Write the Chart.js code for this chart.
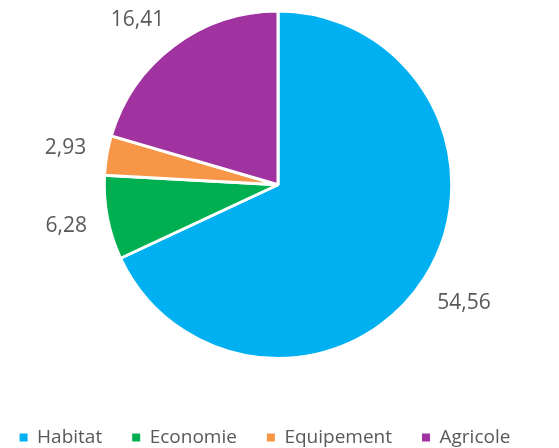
<!DOCTYPE html>
<html>
<head>
<meta charset="utf-8">
<script src="https://cdn.jsdelivr.net/npm/chart.js@4/dist/chart.umd.min.js"></script>
<style>
    html, body { margin: 0; padding: 0; background: #fff; }
    #wrap { width: 559px; height: 448px; }
</style>
</head>
<body>
<div id="wrap"><canvas id="pie"></canvas></div>
<script>
(function () {
    "use strict";

    const categories = ["Habitat", "Economie", "Equipement", "Agricole"];
    const values = [54.56, 6.28, 2.93, 16.41];
    const valueLabels = ["54,56", "6,28", "2,93", "16,41"];
    const colors = ["#00B0F0", "#00B050", "#F79646", "#A033A0"];

    const textColor = "#595959";
    const fontFamily = "'Open Sans', sans-serif";

    // Labels outside each slice, kept inside the top of the plot
    const outsideLabels = {
        id: "outsideLabels",
        afterDatasetsDraw(chart) {
            const ctx = chart.ctx;
            const meta = chart.getDatasetMeta(0);
            const minY = chart.chartArea.top + 11;
            ctx.save();
            ctx.font = "21px " + fontFamily;
            ctx.fillStyle = textColor;
            ctx.textAlign = "center";
            ctx.textBaseline = "middle";
            meta.data.forEach((arc, i) => {
                const p = arc.getProps(["x", "y", "startAngle", "endAngle", "outerRadius"], true);
                const mid = (p.startAngle + p.endAngle) / 2;
                const halfW = ctx.measureText(valueLabels[i]).width / 2;
                const halfH = 8;
                const c = Math.cos(mid);
                const s = Math.sin(mid);
                const dist = p.outerRadius + 20 + halfW * Math.abs(c) + halfH * Math.abs(s);
                let lx = p.x + c * dist;
                let ly = p.y + s * dist;
                if (ly < minY) {
                    const dy = p.y - minY;
                    const dx = Math.sqrt(Math.max(dist * dist - dy * dy, 0));
                    ly = minY;
                    lx = p.x + Math.sign(c) * dx;
                }
                ctx.fillText(valueLabels[i], lx, ly);
            });
            ctx.restore();
        },
    };

    // Move the legend box below the pie, like the office chart
    const legendShift = {
        id: "legendShift",
        afterLayout(chart) {
            const lg = chart.legend;
            const dx = -13;
            const dy = 38;
            lg.left += dx;
            lg.right += dx;
            lg.top += dy;
            lg.bottom += dy;
        },
    };

    new Chart(document.getElementById("pie"), {
        type: "pie",
        data: {
            labels: categories,
            datasets: [
                {
                    data: values,
                    backgroundColor: colors,
                    borderColor: "#ffffff",
                    borderWidth: 3,
                },
            ],
        },
        options: {
            responsive: true,
            maintainAspectRatio: false,
            animation: false,
            layout: {
                padding: { top: 9.5, bottom: 29, left: 0, right: 3 },
            },
            plugins: {
                tooltip: { enabled: false },
                legend: {
                    position: "bottom",
                    labels: {
                        boxWidth: 8,
                        boxHeight: 8,
                        padding: 30,
                        color: textColor,
                        font: { family: fontFamily, size: 19 },
                        generateLabels(chart) {
                            const items = Chart.controllers.pie.overrides.plugins.legend.labels.generateLabels(chart);
                            items.forEach((it) => {
                                it.lineWidth = 0;
                                it.strokeStyle = "rgba(0,0,0,0)";
                            });
                            return items;
                        },
                    },
                },
            },
        },
        plugins: [outsideLabels, legendShift],
    });
})();
</script>
</body>
</html>
